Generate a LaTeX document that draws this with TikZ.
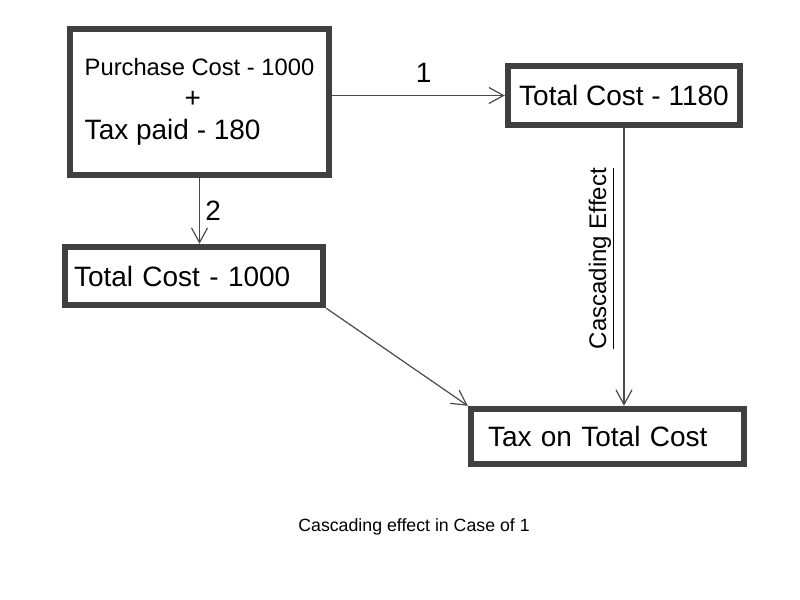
\documentclass[tikz,border=0pt]{standalone}
\usepackage{fontspec}
\setmainfont{Liberation Sans}
\usetikzlibrary{arrows.meta, positioning, calc}
\definecolor{boxgray}{HTML}{404040}
\definecolor{linegray}{HTML}{4A4A4A}

\begin{document}
\begin{tikzpicture}[x=0.75pt, y=-0.75pt,
  box/.style={draw=boxgray, line width=4.8pt, fill=white, inner sep=0pt,
    font=\fontsize{21}{24}\selectfont},
  flow/.style={draw=linegray, line width=0.9pt,
    -{Straight Barb[length=11pt, width=12pt]}},
  lbl/.style={inner sep=0pt, font=\fontsize{21}{24}\selectfont}]
  \useasboundingbox (0,0) rectangle (800,600);

  % boxes
  \node[box, minimum width=194.25pt, minimum height=109.5pt, align=left] (purchase) at (199.5,102)
    {{\fontsize{17.8}{24}\selectfont Purchase Cost - 1000}\\
     \hspace*{75pt}+\\
     Tax paid - 180};
  \node[box, minimum width=174pt, minimum height=44.25pt] (total1180) at (624,95.5) {Total Cost - 1180};
  \node[box, minimum width=193.5pt, minimum height=43.5pt, text width=180pt, align=left] (total1000) at (194,276) {Total Cost - 1000};
  \node[box, minimum width=204.75pt, minimum height=41.25pt, text width=179.25pt, align=left] (taxcost) at (607.5,436.5) {Tax on Total Cost};

  % connectors
  \draw[flow] (purchase.east |- total1180.west) -- node[lbl, pos=0.53, above=9pt] {1} (total1180.west);
  \draw[flow] (purchase.south) -- node[lbl, right=4pt] {2} (purchase.south |- total1000.north);
  \draw[flow] (total1000.south east) -- (taxcost.north west);
  \draw[flow] (total1180.south) -- node[inner sep=0pt, pos=0.47, xshift=-17pt, rotate=90, anchor=center,
    font=\fontsize{18}{22}\selectfont] {\underline{Cascading Effect}} (total1180.south |- taxcost.north);

  % caption
  \node[font=\fontsize{13.3}{16}\selectfont] (caption) at (414,527) {Cascading effect in Case of 1};
\end{tikzpicture}
\end{document}
